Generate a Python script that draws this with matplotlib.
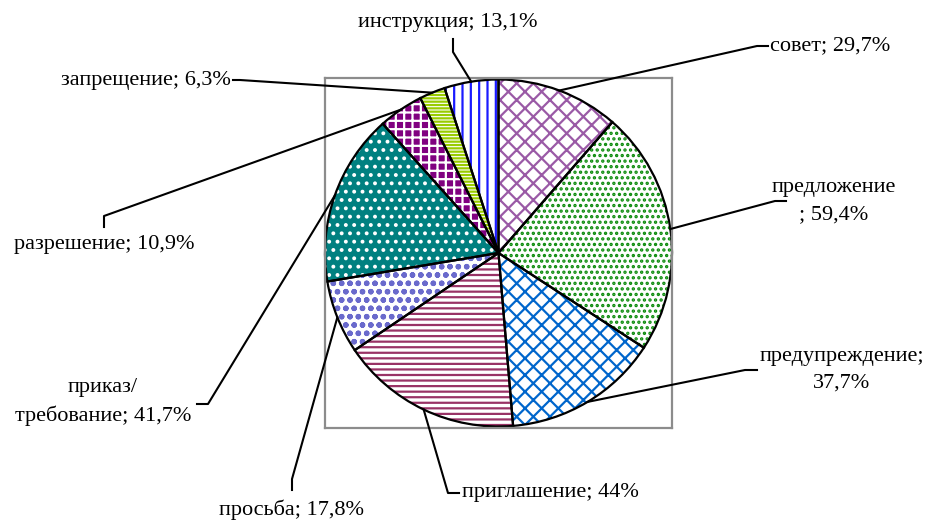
import matplotlib
matplotlib.use("Agg")
import numpy as np
import matplotlib.pyplot as plt
from matplotlib.lines import Line2D

plt.rcParams["font.family"] = ["Liberation Serif", "DejaVu Serif"]
plt.rcParams["hatch.linewidth"] = 1.6

# data (clockwise from 12 o'clock)
categories = ["совет", "предложение", "предупреждение", "приглашение", "просьба",
              "приказ/\nтребование", "разрешение", "запрещение", "инструкция"]
values = [29.7, 59.4, 37.7, 44.0, 17.8, 41.7, 10.9, 6.3, 13.1]
value_labels = ["29,7%", "59,4%", "37,7%", "44%", "17,8%", "41,7%", "10,9%", "6,3%", "13,1%"]

# fill styles: facecolor, hatch colour, hatch
styles = [
    ("white", "#9a5aa6", "xx"),
    ("white", "#0a8a0a", "..."),
    ("white", "#0066cc", "xx"),
    ("white", "#993366", "---"),
    ("white", "#6a6acc", "oo"),
    ("#008080", "white", ".."),
    ("#800080", "white", "++"),
    ("white", "#99cc00", "-----"),
    ("white", "#1a1aff", "||"),
]

# label layout in image pixels (x, y from top), alignment, leader points (label side -> pie)
layout = [
    ("совет; 29,7%", 770, 46, "left", [(768, 46), (757, 46)]),
    ("предложение\n; 59,4%", 834, 201, "center", [(786, 201), (775, 201)]),
    ("предупреждение;\n37,7%", 842, 370, "center", [(757, 370), (745, 370)]),
    ("приглашение; 44%", 462, 493, "left", [(459, 493), (448, 493)]),
    ("просьба; 17,8%", 292, 510, "center", [(292, 490), (292, 479)]),
    ("приказ/\nтребование; 41,7%", 103, 402, "center", [(197, 404), (208, 404)]),
    ("разрешение; 10,9%", 104, 245, "center", [(104, 227), (104, 216)]),
    ("запрещение; 6,3%", 231, 80, "right", [(233, 80), (240, 80)]),
    ("инструкция; 13,1%", 448, 22, "center", [(453, 39), (453, 52)]),
]

W, H = 928, 520
fig = plt.figure(figsize=(W / 100, H / 100), dpi=100)
ax = fig.add_axes([325 / W, (H - 428) / H, 347 / W, 350 / H])

fill_wedges, _ = ax.pie(values, startangle=90, counterclock=False, radius=1)
for w, (fc, hc, hatch) in zip(fill_wedges, styles):
    w.set_facecolor(fc)
    w.set_edgecolor(hc)
    w.set_hatch(hatch)
    w.set_linewidth(0)

edge_wedges, _ = ax.pie(values, startangle=90, counterclock=False, radius=1,
                        wedgeprops=dict(fill=False, edgecolor="black", linewidth=1.6))

ax.set_frame_on(True)
for s in ax.spines.values():
    s.set_color("#8c8c8c")
    s.set_linewidth(1.6)
ax.set_xticks([])
ax.set_yticks([])
ax.set_xlim(-1, 1)
ax.set_ylim(-1, 1)
ax.set_aspect("equal", adjustable="datalim")

fig.canvas.draw()

for w, (text, tx, ty, ha, pts) in zip(edge_wedges, layout):
    mid = np.deg2rad((w.theta1 + w.theta2) / 2)
    ex, ey = ax.transData.transform((np.cos(mid), np.sin(mid)))
    xs = [p[0] for p in pts] + [ex]
    ys = [H - p[1] for p in pts] + [ey]
    fig.add_artist(Line2D(xs, ys, transform=None, color="black", linewidth=1.5))
    fig.text(tx / W, 1 - ty / H, text, ha=ha, va="center", fontsize=16,
             multialignment="center", linespacing=1.55)

fig.savefig("out.png", dpi=100)
